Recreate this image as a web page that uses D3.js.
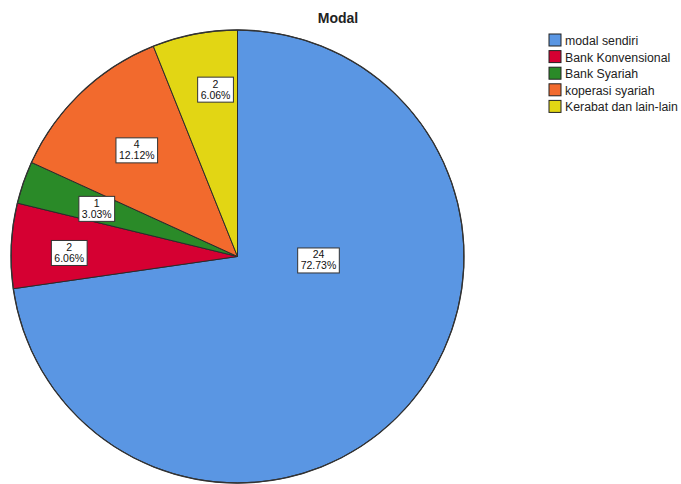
<!DOCTYPE html>
<html>
<head>
<meta charset="utf-8">
<script src="https://cdn.jsdelivr.net/npm/d3@7/dist/d3.min.js"></script>
<style>
  html, body { margin: 0; padding: 0; background: #ffffff; }
  svg { display: block; font-family: "Liberation Sans", Arial, sans-serif; }
</style>
</head>
<body>
<svg id="chart" width="681" height="484"></svg>
<script>
// Sources of capital (Modal), counts of respondents
const categories = ["modal sendiri", "Bank Konvensional", "Bank Syariah", "koperasi syariah", "Kerabat dan lain-lain"];
const counts = [24, 2, 1, 4, 2];
const percentLabels = ["72.73%", "6.06%", "3.03%", "12.12%", "6.06%"];
const colors = ["#5a96e3", "#d50032", "#2a8a28", "#f26a2d", "#e2d614"];

// Label anchors inside each slice: [angle in degrees clockwise from 12 o'clock, fraction of radius]
const labelAnchors = [[92.8, 0.358], [271.2, 0.743], [288.7, 0.656], [316.5, 0.646], [352.5, 0.743]];

const svg = d3.select("#chart");
const cx = 237.5, cy = 256.5, R = 226.5;

svg.append("text")
  .attr("x", 338).attr("y", 23)
  .attr("text-anchor", "middle")
  .attr("font-size", 14).attr("font-weight", "bold")
  .attr("fill", "#222")
  .text("Modal");

const pie = d3.pie().sort(null).value(d => d)(counts);
const arc = d3.arc().innerRadius(0).outerRadius(R);

const g = svg.append("g").attr("transform", `translate(${cx},${cy})`);

g.selectAll("path.slice")
  .data(pie)
  .join("path")
  .attr("class", "slice")
  .attr("d", arc)
  .attr("fill", (d, i) => colors[i])
  .attr("stroke", "#2b2b2b")
  .attr("stroke-width", 1)
  .attr("stroke-linejoin", "round");

// outer rim
g.append("circle").attr("r", R).attr("fill", "none").attr("stroke", "#333").attr("stroke-width", 1.3);

// value labels
const labels = g.selectAll("g.lbl")
  .data(pie)
  .join("g")
  .attr("class", "lbl")
  .attr("transform", (d, i) => {
    const [a, f] = labelAnchors[i];
    const [x, y] = d3.pointRadial(a * Math.PI / 180, f * R);
    return `translate(${x},${y})`;
  });

labels.each(function(d, i) {
  const sel = d3.select(this);
  const t1 = sel.append("text").attr("text-anchor", "middle").attr("font-size", 10.5).attr("fill", "#111")
    .attr("y", -2).text(counts[i]);
  const t2 = sel.append("text").attr("text-anchor", "middle").attr("font-size", 10.5).attr("fill", "#111")
    .attr("y", 9).text(percentLabels[i]);
  const w = Math.max(t1.node().getComputedTextLength(), t2.node().getComputedTextLength()) + 6;
  sel.insert("rect", "text")
    .attr("x", -w / 2).attr("y", -12.5)
    .attr("width", w).attr("height", 25)
    .attr("fill", "#ffffff")
    .attr("stroke", "#333")
    .attr("stroke-width", 1);
});

// legend
const legend = svg.append("g").attr("transform", "translate(549,34)");
const rows = legend.selectAll("g.row")
  .data(categories)
  .join("g")
  .attr("class", "row")
  .attr("transform", (d, i) => `translate(0,${i * 16.6})`);
rows.append("rect")
  .attr("width", 12).attr("height", 12)
  .attr("fill", (d, i) => colors[i])
  .attr("stroke", "#222").attr("stroke-width", 1);
rows.append("text")
  .attr("x", 16).attr("y", 11)
  .attr("font-size", 12.3)
  .attr("fill", "#222")
  .text(d => d);
</script>
</body>
</html>
